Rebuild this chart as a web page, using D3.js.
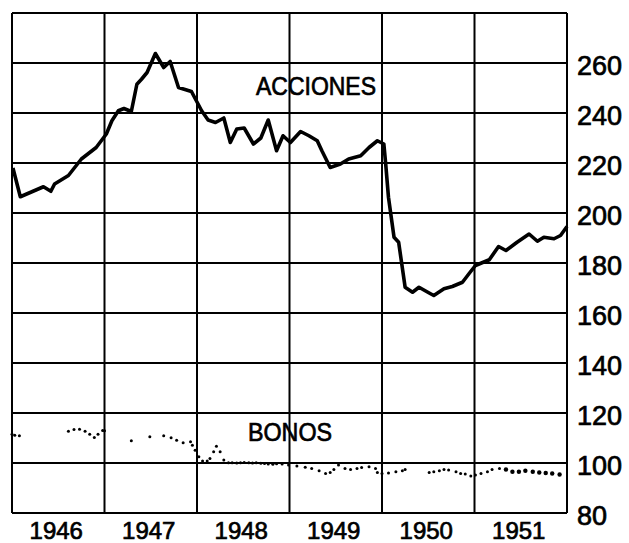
<!DOCTYPE html>
<html>
<head>
<meta charset="utf-8">
<script src="https://cdn.jsdelivr.net/npm/d3@7"></script>
<style>
    body{ margin: 0; background: #fff; }
    svg text{ font-family: "Liberation Sans", Arial, sans-serif; fill: #000; stroke: #000; stroke-width: 0.7px; }
</style>
</head>
<body>
<svg id="chart" width="629" height="543"></svg>
<script>
// Years shown along the bottom
const years = [1946, 1947, 1948, 1949, 1950, 1951];
const yTicks = [80, 100, 120, 140, 160, 180, 200, 220, 240, 260];

// ACCIONES (date as fraction of year)
const accionesFechas = [1946.01, 1946.09, 1946.34, 1946.42, 1946.46, 1946.61, 1946.75, 1946.91, 1947.02, 1947.08,
    1947.15, 1947.21, 1947.29, 1947.35, 1947.40, 1947.46, 1947.55, 1947.64, 1947.71, 1947.80,
    1947.94, 1948.05, 1948.12, 1948.20, 1948.29, 1948.36, 1948.43, 1948.51, 1948.61, 1948.69,
    1948.77, 1948.86, 1948.93, 1949.01, 1949.12, 1949.21, 1949.30, 1949.35, 1949.44, 1949.55,
    1949.64, 1949.77, 1949.86, 1949.95, 1950.02, 1950.04, 1950.07, 1950.13, 1950.18, 1950.25,
    1950.33, 1950.40, 1950.51, 1950.56, 1950.67, 1950.76, 1950.87, 1950.94, 1951.01, 1951.16,
    1951.26, 1951.34, 1951.46, 1951.59, 1951.68, 1951.75, 1951.86, 1951.93, 1952.00];
const accionesValores = [218.0, 206.5, 210.5, 208.7, 211.6, 215.0, 221.6, 226.2, 231.6, 236.9,
    240.9, 241.8, 240.6, 251.5, 253.5, 256.2, 263.8, 258.2, 260.6, 250.2,
    248.6, 240.9, 237.2, 236.2, 238.0, 228.2, 233.6, 234.0, 227.6, 230.0,
    237.2, 224.9, 230.9, 228.2, 232.6, 230.9, 228.9, 224.9, 218.2, 219.6,
    221.6, 222.9, 226.2, 228.9, 227.6, 219.6, 206.3, 190.3, 188.3, 170.3,
    168.3, 170.3, 168.0, 167.0, 169.7, 170.6, 172.3, 175.7, 179.0, 181.3,
    186.6, 185.0, 188.3, 191.6, 188.7, 190.3, 189.7, 191.0, 194.6];

// BONOS (dotted series, gaps where no dots were printed)
const bonosFechas = [1946.00, 1946.03, 1946.08,
    1946.61, 1946.67, 1946.73, 1946.79, 1946.84, 1946.89, 1946.93, 1946.98, 1947.00,
    1947.29, 1947.49, 1947.64, 1947.72, 1947.78, 1947.85, 1947.93, 1947.95, 1947.98,
    1948.02, 1948.06, 1948.11, 1948.14, 1948.18, 1948.21, 1948.25, 1948.29,
    1948.34, 1948.38, 1948.43, 1948.47, 1948.51, 1948.56, 1948.60, 1948.64, 1948.69, 1948.73,
    1948.77, 1948.82, 1948.86, 1948.92, 1948.99, 1949.08, 1949.17, 1949.24, 1949.32, 1949.39,
    1949.44, 1949.48, 1949.53, 1949.60, 1949.66, 1949.73, 1949.78, 1949.86, 1949.93, 1949.95,
    1950.00, 1950.07, 1950.15, 1950.22, 1950.25,
    1950.51, 1950.56, 1950.62, 1950.67, 1950.72, 1950.80, 1950.85, 1950.90, 1950.96, 1951.01,
    1951.07, 1951.14, 1951.19, 1951.27, 1951.34, 1951.41, 1951.48, 1951.55, 1951.63, 1951.70,
    1951.77, 1951.84, 1951.92];
const bonosValores = [111.5, 111.1, 110.9,
    112.7, 113.4, 113.5, 112.7, 111.5, 110.2, 111.5, 113.0, 112.9,
    108.9, 110.5, 110.9, 110.1, 109.1, 108.1, 108.5, 107.1, 105.1,
    102.5, 100.8, 100.8, 101.8, 104.5, 106.7, 104.5, 101.2,
    100.1, 100.1, 100.0, 100.1, 100.2, 100.1, 100.0, 100.1, 99.9, 99.8,
    99.6, 99.5, 99.7, 99.6, 99.2, 98.8, 98.3, 97.8, 96.9, 95.8,
    96.2, 97.4, 99.2, 97.8, 97.4, 97.8, 98.2, 98.5, 97.8, 96.2,
    95.8, 96.0, 96.5, 96.9, 97.4,
    96.2, 96.5, 96.9, 97.4, 97.2, 96.5, 95.8, 95.6, 94.8, 95.2,
    95.8, 96.5, 97.4, 97.8, 97.4, 96.5, 96.5, 96.9, 96.5, 96.2,
    96.0, 95.8, 95.4];

class ChartIndex{
    constructor(){
        this.svg = d3.select("svg#chart");
        this.left = 12;
        this.right = 567;
        this.top = 13;
        this.bottom = 513;
        this.x = d3.scaleLinear().domain([1946, 1952]).range([this.left, this.right]);
        this.y = d3.scaleLinear().domain([80, 280]).range([this.bottom, this.top]);
    }

    init = () => {
        this.drawGrid();
        this.drawLabels();
        this.drawAcciones();
        this.drawBonos();
    }

    drawGrid = () => {
        let g = this.svg.append("g").attr("class", "grid");
        let hLines = d3.range(80, 281, 20);
        g.selectAll("line.h").data(hLines).enter()
            .append("line")
            .attr("class", "h")
            .attr("x1", this.left).attr("x2", this.right)
            .attr("y1", d => this.y(d)).attr("y2", d => this.y(d))
            .attr("stroke", "#000").attr("stroke-width", 2);
        let vLines = d3.range(1946, 1953);
        g.selectAll("line.v").data(vLines).enter()
            .append("line")
            .attr("class", "v")
            .attr("x1", d => this.x(d)).attr("x2", d => this.x(d))
            .attr("y1", this.top).attr("y2", this.bottom)
            .attr("stroke", "#000").attr("stroke-width", 2);
    }

    drawLabels = () => {
        // right axis tick labels
        let axis = d3.axisRight(this.y).tickValues(yTicks).tickSize(0).tickPadding(10);
        let ax = this.svg.append("g")
            .attr("transform", `translate(${this.right},0)`)
            .call(axis);
        ax.select(".domain").remove();
        ax.selectAll("text")
            .attr("font-family", "Liberation Sans, Arial, sans-serif")
            .attr("font-size", 27)
            .attr("dy", "0.42em");

        // year labels centred in each year
        this.svg.selectAll("text.year").data(years).enter()
            .append("text")
            .attr("class", "year")
            .attr("x", d => this.x(d + 0.5) - 2)
            .attr("y", 539)
            .attr("text-anchor", "middle")
            .attr("font-size", 24)
            .text(d => d);

        this.svg.append("text")
            .attr("x", 316).attr("y", 95)
            .attr("text-anchor", "middle")
            .attr("font-size", 25)
            .attr("textLength", 120).attr("lengthAdjust", "spacingAndGlyphs")
            .text("ACCIONES");

        this.svg.append("text")
            .attr("x", 290).attr("y", 441)
            .attr("text-anchor", "middle")
            .attr("font-size", 25)
            .attr("textLength", 84).attr("lengthAdjust", "spacingAndGlyphs")
            .text("BONOS");
    }

    drawAcciones = () => {
        let data = accionesFechas.map((f, i) => ({fecha: f, valor: accionesValores[i]}));
        let line = d3.line().x(d => this.x(d.fecha)).y(d => this.y(d.valor));
        this.svg.append("path")
            .datum(data)
            .attr("d", line)
            .attr("fill", "none")
            .attr("stroke", "#000")
            .attr("stroke-width", 3.6)
            .attr("stroke-linejoin", "round");
    }

    drawBonos = () => {
        let data = bonosFechas.map((f, i) => ({fecha: f, valor: bonosValores[i]}));
        this.svg.append("g").selectAll("circle").data(data).enter()
            .append("circle")
            .attr("cx", d => this.x(d.fecha))
            .attr("cy", d => this.y(d.valor))
            .attr("r", d => d.fecha > 1951.3 ? 2.2 : 1.5)
            .attr("fill", "#000");
    }
}

new ChartIndex().init();
</script>
</body>
</html>
